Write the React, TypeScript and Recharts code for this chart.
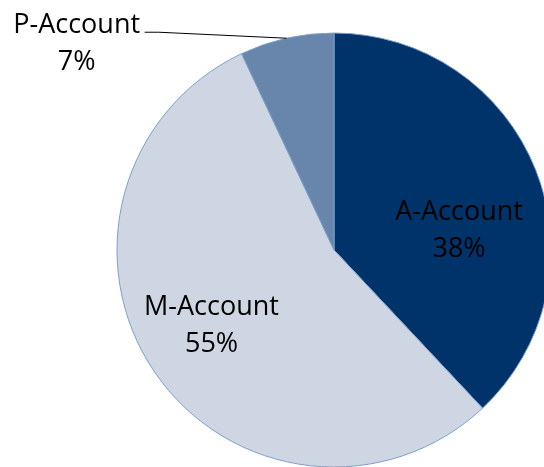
import React from 'react';
import { PieChart, Pie, Cell } from 'recharts';

// account share (clockwise from 12 o'clock)
const names = ['A-Account', 'M-Account', 'P-Account'];
const shares = [38, 55, 7];
const colors = ['#00336A', '#CDD6E2', '#6886AB'];

const data = names.map((name, i) => ({ name, value: shares[i] }));

const RAD = Math.PI / 180;
const FONT = '"Open Sans", sans-serif';
const FS = 27;

const renderLabel = (props: any) => {
  const { cx, cy, midAngle, outerRadius, name, value, index } = props;
  const cos = Math.cos(-midAngle * RAD);
  const sin = Math.sin(-midAngle * RAD);

  // small slice: label outside with a leader line
  if (index === 2) {
    const ox = cx + outerRadius * cos;
    const oy = cy + outerRadius * sin;
    const mx = ox - 128;
    const my = oy - 6;
    const tx = ox - 210;
    return (
      <g>
        <polyline
          points={`${ox},${oy} ${mx},${my} ${mx - 14},${my}`}
          fill="none"
          stroke="#000"
          strokeWidth={1}
        />
        <text x={tx} y={oy - 5} textAnchor="middle" fontFamily={FONT} fontSize={FS} fill="#000">
          {name}
        </text>
        <text x={tx} y={oy + 32} textAnchor="middle" fontFamily={FONT} fontSize={FS} fill="#000">
          {`${value}%`}
        </text>
      </g>
    );
  }

  // inside labels
  const r = outerRadius * (index === 0 ? 0.6 : 0.66);
  const x = cx + r * cos + (index === 0 ? 4 : -4);
  const y = cy + r * sin + (index === 0 ? 27 : -7);
  return (
    <g>
      <text x={x} y={y - 9} textAnchor="middle" fontFamily={FONT} fontSize={FS} fill="#000">
        {name}
      </text>
      <text x={x} y={y + 28} textAnchor="middle" fontFamily={FONT} fontSize={FS} fill="#000">
        {`${value}%`}
      </text>
    </g>
  );
};

export default function App() {
  return (
    <div style={{ position: 'fixed', top: 0, left: 0, width: 544, height: 467, overflow: 'hidden' }}>
      <PieChart width={560} height={480} margin={{ top: 0, right: 0, bottom: 0, left: 0 }}>
        <Pie
          data={data}
          dataKey="value"
          nameKey="name"
          cx={334}
          cy={250}
          outerRadius={217}
          startAngle={90}
          endAngle={-270}
          stroke="#7F9FCB"
          strokeWidth={1}
          label={renderLabel}
          labelLine={false}
          isAnimationActive={false}
        >
          {data.map((d, i) => (
            <Cell key={d.name} fill={colors[i]} />
          ))}
        </Pie>
      </PieChart>
    </div>
  );
}
